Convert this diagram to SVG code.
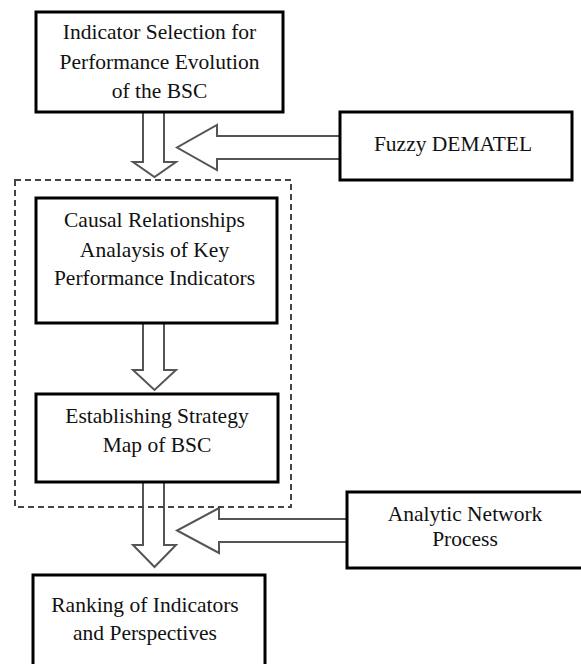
<svg xmlns="http://www.w3.org/2000/svg" width="581" height="664" viewBox="0 0 581 664">
<style>
.box{fill:#fff;stroke:#000;stroke-width:3}
.arr{fill:#fff;stroke:#555;stroke-width:2;stroke-linejoin:miter}
.dash{fill:none;stroke:#444;stroke-width:2;stroke-dasharray:6,4}
.t{font-family:'Liberation Serif','DejaVu Serif',serif;font-size:21.5px;fill:#111;text-anchor:middle}
</style>
<rect width="581" height="664" fill="#fff"/>
<g id="connectors">
<path class="arr" d="M143,112 L143,162 L133,162 L154.5,177 L176,162 L164,162 L164,112"/>
<path class="arr" d="M340,136 L217,136 L217,125 L177,147.5 L217,170 L217,159 L340,159"/>
<path class="arr" d="M143,323 L143,370 L133,370 L154.5,390 L176,370 L164,370 L164,323"/>
<path class="arr" d="M143,482 L143,545 L133,545 L154.5,567 L176,545 L164,545 L164,482"/>
<path class="arr" d="M347,519 L219,519 L219,508 L177,530.5 L219,553 L219,542 L347,542"/>
</g>
<g id="group-dashed">
<rect class="dash" x="15" y="180" width="276" height="327"/>
</g>
<g id="n1">
<rect class="box" x="36" y="12" width="247" height="100"/>
<text class="t" x="159.5" y="39">Indicator Selection for</text>
<text class="t" x="159.5" y="68.5">Performance Evolution</text>
<text class="t" x="159.5" y="98">of the BSC</text>
</g>
<g id="n-fuzzy">
<rect class="box" x="340" y="112" width="232" height="68"/>
<text class="t" x="453" y="151">Fuzzy DEMATEL</text>
</g>
<g id="n2">
<rect class="box" x="36" y="198" width="241" height="125"/>
<text class="t" x="154.5" y="227">Causal Relationships</text>
<text class="t" x="154.5" y="257">Analaysis of Key</text>
<text class="t" x="154.5" y="285">Performance Indicators</text>
</g>
<g id="n3">
<rect class="box" x="36" y="394" width="242" height="88"/>
<text class="t" x="157" y="423">Establishing Strategy</text>
<text class="t" x="157" y="452">Map of BSC</text>
</g>
<g id="n-anp">
<rect class="box" x="347" y="492" width="236" height="76"/>
<text class="t" x="465" y="521">Analytic Network</text>
<text class="t" x="465" y="546">Process</text>
</g>
<g id="n4">
<rect class="box" x="33" y="575" width="232" height="110"/>
<text class="t" x="145" y="612">Ranking of Indicators</text>
<text class="t" x="145" y="640">and Perspectives</text>
</g>
</svg>
